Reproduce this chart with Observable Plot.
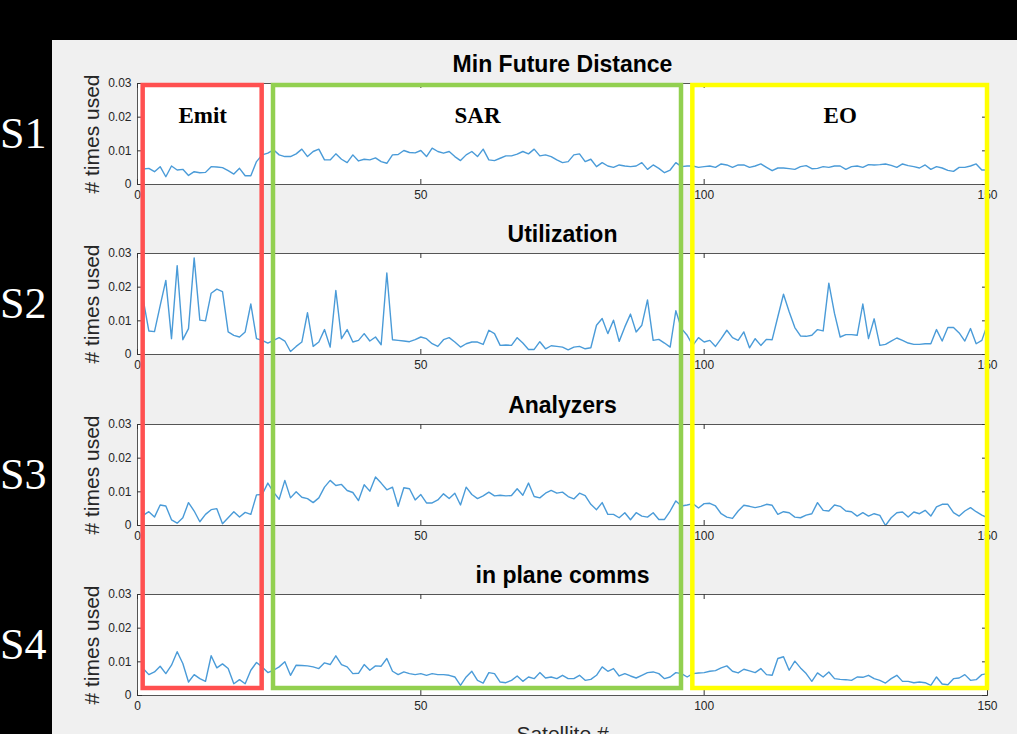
<!DOCTYPE html>
<html><head><meta charset="utf-8">
<script src="https://cdn.jsdelivr.net/npm/d3@7"></script>
<script src="https://cdn.jsdelivr.net/npm/@observablehq/plot@0.6"></script>
<style>
html,body{margin:0;padding:0;background:#000;width:1017px;height:734px;overflow:hidden;position:relative;font-family:"Liberation Sans",Arial,sans-serif}
#panel{position:absolute;left:52px;top:40px;width:965px;height:694px;background:#f0f0f0}
.plot{position:absolute;left:52px}
.plot svg{display:block;overflow:visible}
.slabel{position:absolute;left:0;width:46px;text-align:right;color:#fff;font-family:"Liberation Serif","Times New Roman",serif;font-size:44px;line-height:44px}
</style></head><body>
<div id="panel"></div>
<div id="plots"></div>
<script>
// ---------- data ----------
const satellites = d3.range(1, 151);
const titles = ["Min Future Distance", "Utilization", "Analyzers", "in plane comms"];
const rowLabels = ["S1", "S2", "S3", "S4"];
const yLabel = "# times used";
const xLabel = "Satellite #";
const xTicks = [0, 50, 100, 150];
const xTickLabels = ["0", "50", "100", "150"];
const yTicks = [0, 0.01, 0.02, 0.03];
const yTickLabels = ["0", "0.01", "0.02", "0.03"];
const groupNames = ["Emit", "SAR", "EO"];
const groupStart = [1, 24, 98];
const groupEnd = [22, 96, 150];

const minFutureDistance = [
.0046,.0048,.0038,.0053,.0023,.0055,.0043,.0045,.0027,.0038,
.0035,.0036,.0053,.0052,.0050,.0041,.0031,.0048,.0026,.0026,
.0068,.0088,.0093,.0103,.0088,.0083,.0083,.0091,.0105,.0083,
.0098,.0105,.0073,.0073,.0091,.0075,.0065,.0088,.0070,.0075,
.0073,.0079,.0068,.0063,.0088,.0089,.0101,.0095,.0094,.0101,
.0083,.0108,.0098,.0093,.0098,.0083,.0071,.0088,.0098,.0083,
.0105,.0073,.0071,.0078,.0085,.0085,.0090,.0098,.0091,.0105,
.0085,.0088,.0083,.0073,.0065,.0068,.0088,.0091,.0068,.0075,
.0053,.0065,.0055,.0051,.0058,.0055,.0053,.0055,.0065,.0045,
.0058,.0048,.0035,.0043,.0065,.0053,.0055,.0055,.0051,.0053,
.0055,.0051,.0061,.0058,.0051,.0058,.0058,.0051,.0055,.0061,
.0051,.0041,.0049,.0049,.0047,.0045,.0053,.0056,.0047,.0048,
.0053,.0051,.0055,.0055,.0045,.0053,.0055,.0051,.0059,.0058,
.0059,.0061,.0057,.0051,.0061,.0056,.0053,.0049,.0058,.0045,
.0053,.0049,.0042,.0039,.0051,.0051,.0055,.0061,.0043,.0043];

const utilization = [
.0164,.0070,.0068,.0145,.0220,.0047,.0264,.0044,.0077,.0287,
.0102,.0100,.0182,.0194,.0187,.0067,.0057,.0052,.0067,.0150,
.0047,.0042,.0034,.0042,.0050,.0040,.0009,.0024,.0037,.0124,
.0024,.0037,.0074,.0022,.0190,.0047,.0074,.0037,.0042,.0062,
.0040,.0052,.0029,.0242,.0044,.0042,.0040,.0038,.0044,.0052,
.0047,.0032,.0024,.0044,.0050,.0037,.0022,.0032,.0037,.0037,
.0030,.0072,.0062,.0027,.0028,.0027,.0050,.0034,.0015,.0015,
.0038,.0017,.0026,.0024,.0022,.0014,.0022,.0024,.0017,.0020,
.0087,.0107,.0062,.0102,.0039,.0082,.0120,.0067,.0087,.0162,
.0042,.0045,.0034,.0022,.0130,.0077,.0057,.0027,.0050,.0037,
.0042,.0024,.0047,.0072,.0050,.0042,.0067,.0020,.0047,.0027,
.0045,.0044,.0112,.0179,.0127,.0080,.0055,.0054,.0057,.0074,
.0070,.0212,.0122,.0052,.0059,.0059,.0057,.0150,.0047,.0106,
.0027,.0030,.0040,.0049,.0042,.0034,.0030,.0030,.0032,.0032,
.0074,.0040,.0080,.0080,.0064,.0040,.0077,.0032,.0042,.0090];

const analyzers = [
.0030,.0041,.0025,.0061,.0058,.0017,.0007,.0023,.0068,.0043,
.0011,.0033,.0047,.0050,.0005,.0023,.0041,.0025,.0039,.0033,
.0091,.0092,.0126,.0099,.0078,.0134,.0082,.0100,.0084,.0080,
.0068,.0082,.0114,.0134,.0119,.0122,.0104,.0098,.0074,.0121,
.0102,.0144,.0126,.0106,.0114,.0057,.0112,.0109,.0076,.0092,
.0067,.0067,.0076,.0094,.0080,.0096,.0061,.0114,.0092,.0080,
.0088,.0099,.0088,.0090,.0088,.0089,.0109,.0090,.0126,.0086,
.0082,.0096,.0104,.0096,.0099,.0086,.0079,.0096,.0089,.0063,
.0047,.0068,.0033,.0033,.0023,.0038,.0017,.0038,.0028,.0025,
.0038,.0018,.0018,.0043,.0073,.0058,.0061,.0065,.0052,.0065,
.0066,.0058,.0035,.0025,.0021,.0043,.0060,.0057,.0053,.0057,
.0063,.0060,.0033,.0041,.0038,.0025,.0023,.0031,.0035,.0068,
.0045,.0043,.0061,.0057,.0043,.0041,.0028,.0038,.0028,.0035,
.0030,.0000,.0023,.0038,.0040,.0025,.0040,.0035,.0045,.0028,
.0055,.0063,.0063,.0038,.0028,.0043,.0053,.0041,.0031,.0023];

const inPlaneComms = [
.0080,.0062,.0070,.0087,.0065,.0090,.0130,.0095,.0040,.0062,
.0050,.0042,.0118,.0082,.0094,.0080,.0035,.0047,.0035,.0075,
.0098,.0085,.0068,.0075,.0085,.0100,.0060,.0090,.0089,.0088,
.0085,.0080,.0097,.0092,.0118,.0092,.0085,.0065,.0066,.0092,
.0075,.0088,.0087,.0110,.0072,.0062,.0070,.0065,.0062,.0065,
.0060,.0065,.0062,.0062,.0060,.0055,.0030,.0055,.0072,.0045,
.0037,.0068,.0065,.0040,.0038,.0045,.0058,.0042,.0055,.0050,
.0068,.0052,.0055,.0050,.0060,.0050,.0050,.0060,.0045,.0048,
.0060,.0085,.0072,.0080,.0058,.0065,.0058,.0052,.0060,.0068,
.0070,.0065,.0050,.0055,.0068,.0065,.0055,.0065,.0067,.0068,
.0072,.0074,.0082,.0088,.0072,.0067,.0078,.0073,.0068,.0080,
.0062,.0060,.0110,.0115,.0075,.0102,.0082,.0065,.0042,.0067,
.0055,.0070,.0050,.0048,.0047,.0045,.0055,.0054,.0060,.0050,
.0045,.0037,.0050,.0060,.0042,.0042,.0038,.0040,.0038,.0030,
.0055,.0034,.0032,.0050,.0052,.0062,.0045,.0047,.0062,.0065];

const seriesList = [minFutureDistance, utilization, analyzers, inPlaneComms];

// ---------- layout / style ----------
const W = 965, ML = 85, MR = 30, AXH = 101;
const innerW = W - ML - MR;
const axTops = [83, 253, 424, 594];
const lineColor = "#4a9bd8";
const groupColors = ["#ff5050", "#92d050", "#ffff00"];
const sans = "'Liberation Sans', Arial, sans-serif";
const serif = "'Liberation Serif', 'Times New Roman', serif";
const xDomain = [0, 150], yDomain = [0, 0.03];
const xMid = (xDomain[0] + xDomain[1]) / 2, yMid = (yDomain[0] + yDomain[1]) / 2;

const host = document.getElementById("plots");

seriesList.forEach((values, k) => {
  const isLast = k === seriesList.length - 1;
  const MT = 40, MB = isLast ? 60 : 25;
  const data = values.map((v, i) => ({sat: satellites[i], v}));
  const chart = Plot.plot({
    width: W, height: MT + AXH + MB,
    marginLeft: ML, marginRight: MR, marginTop: MT, marginBottom: MB,
    x: {domain: xDomain},
    y: {domain: yDomain},
    style: {background: "transparent", color: "#262626", fontFamily: sans, overflow: "visible"},
    marks: [
      Plot.frame({fill: "white", stroke: null}),
      Plot.line(data, {x: "sat", y: "v", stroke: lineColor, strokeWidth: 1.4}),
      Plot.frame({stroke: "#555", strokeWidth: 1}),
      Plot.tickX(xTicks, {x: d => d, insetTop: AXH - 5, stroke: "#333"}),
      Plot.tickX(xTicks, {x: d => d, insetBottom: AXH - 5, stroke: "#333"}),
      Plot.tickY(yTicks, {y: d => d, insetRight: innerW - 5, stroke: "#333"}),
      Plot.tickY(yTicks, {y: d => d, insetLeft: innerW - 5, stroke: "#333"}),
      Plot.axisX(xTicks, {anchor: "bottom", tickSize: 0, tickPadding: 6, label: null,
        tickFormat: d => xTickLabels[xTicks.indexOf(d)], fontSize: 12}),
      Plot.axisY(yTicks, {anchor: "left", tickSize: 0, tickPadding: 6, label: null,
        tickFormat: d => yTickLabels[yTicks.indexOf(d)], fontSize: 12}),
      Plot.text([titles[k]], {x: xMid, frameAnchor: "top", dy: -19, text: d => d,
        lineAnchor: "middle", textAnchor: "middle",
        fontSize: 23, fontWeight: "bold", fill: "#000"}),
      Plot.text([yLabel], {y: yMid, frameAnchor: "left", dx: -45, rotate: -90, text: d => d,
        lineAnchor: "middle", textAnchor: "middle",
        fontSize: 21, fill: "#262626"}),
      isLast ? Plot.text([xLabel], {x: xMid, frameAnchor: "bottom", dy: 39, text: d => d,
        lineAnchor: "middle", textAnchor: "middle",
        fontSize: 21, fill: "#262626"}) : null
    ]
  });
  const wrap = document.createElement("div");
  wrap.className = "plot";
  wrap.style.top = (axTops[k] - MT) + "px";
  wrap.appendChild(chart);
  host.appendChild(wrap);

  const s = document.createElement("div");
  s.className = "slabel";
  s.textContent = rowLabels[k];
  s.style.top = (axTops[k] + AXH / 2 - 22) + "px";
  document.body.appendChild(s);
});

// ---------- overlay boxes ----------
const boxTop = 85, boxBottom = 688, panelTop = 40, panelH = 694;
const groups = groupNames.map((name, i) => ({name, start: groupStart[i], end: groupEnd[i]}));
const overlay = Plot.plot({
  width: W, height: panelH,
  marginLeft: ML, marginRight: MR, marginTop: boxTop - panelTop, marginBottom: panelTop + panelH - boxBottom,
  x: {domain: xDomain, axis: null},
  y: {domain: [0, 1], axis: null},
  style: {background: "transparent", overflow: "visible"},
  marks: [
    ...groups.map((g, i) => Plot.rect([g], {x1: "start", x2: "end", y1: 0, y2: 1,
      fill: "none", stroke: groupColors[i], strokeWidth: 4.5})),
    Plot.text(groups, {x: d => (d.start + d.end) / 2, frameAnchor: "top", dy: 30, text: "name",
      lineAnchor: "middle", textAnchor: "middle",
      fontSize: 23, fontWeight: "bold", fontFamily: serif, fill: "#000"})
  ]
});
const ow = document.createElement("div");
ow.className = "plot";
ow.style.top = panelTop + "px";
ow.style.zIndex = 5;
ow.appendChild(overlay);
document.body.appendChild(ow);
</script>
</body></html>
